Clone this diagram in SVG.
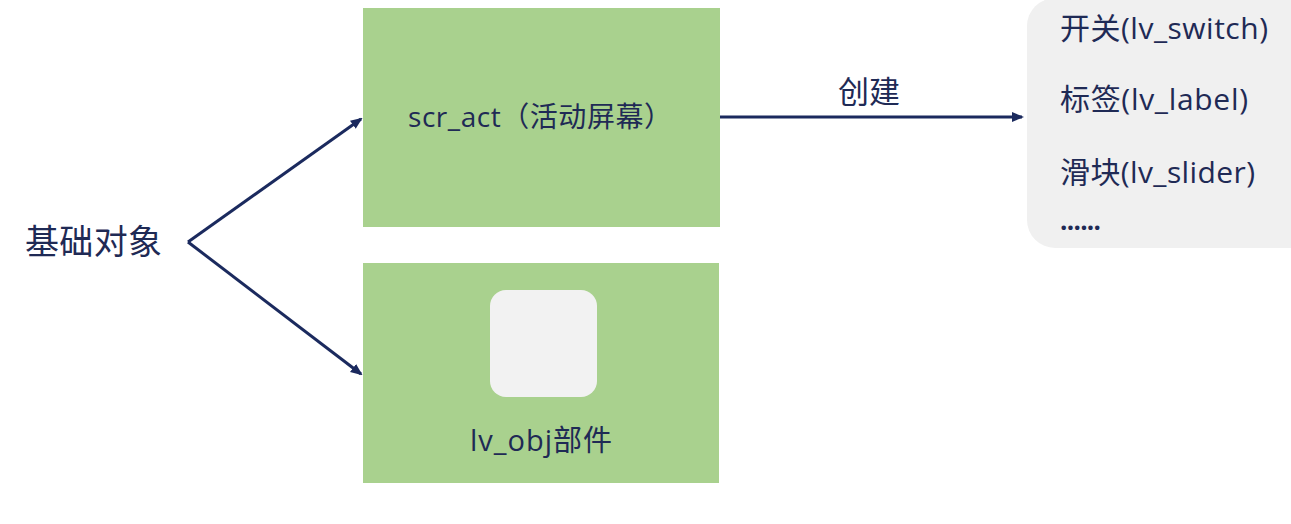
<svg xmlns="http://www.w3.org/2000/svg" width="1291" height="524" viewBox="0 0 1291 524">
<style>
.t{font-family:"Open Sans","Noto Sans CJK SC",sans-serif;fill:#1f2a55}
.box{fill:#a9d18e}
.c{stroke:#1b2a5e;stroke-width:3;fill:none}
</style>
<defs>
<marker id="ah" markerWidth="12" markerHeight="12" refX="10" refY="6" orient="auto" markerUnits="userSpaceOnUse">
<path d="M0,1 L12,6 L0,11 Z" fill="#1b2a5e"/>
</marker>
</defs>
<rect width="1291" height="524" fill="#ffffff"/>
<g id="base">
<text class="t" x="25" y="254" font-size="34" textLength="137">基础对象</text>
</g>
<g id="scr_act">
<rect class="box" x="363" y="8" width="357" height="219"/>
<text class="t" x="408" y="127" font-size="28" textLength="264">scr_act（活动屏幕）</text>
</g>
<g id="lv_obj">
<rect class="box" x="363" y="263" width="356" height="220"/>
<rect x="490" y="290" width="107" height="107" rx="16" fill="#f2f2f2"/>
<text class="t" x="470" y="451" font-size="29" textLength="142">lv_obj部件</text>
</g>
<g id="widgets">
<rect x="1027" y="-2" width="300" height="250" rx="28" fill="#f0f0f0"/>
<text class="t" x="1060" y="39" font-size="30" textLength="208">开关(lv_switch)</text>
<text class="t" x="1060" y="110" font-size="30" textLength="188">标签(lv_label)</text>
<text class="t" x="1060" y="183" font-size="30" textLength="195">滑块(lv_slider)</text>
<text class="t" x="1060" y="230" font-size="26" font-weight="bold" textLength="41">......</text>
</g>
<g id="connectors">
<path class="c" d="M188,242 L361,119" marker-end="url(#ah)"/>
<path class="c" d="M188,242 L361,374" marker-end="url(#ah)"/>
<path class="c" d="M720,117 L1022,117" marker-end="url(#ah)"/>
<text class="t" x="838" y="103" font-size="31" textLength="62">创建</text>
</g>
</svg>
